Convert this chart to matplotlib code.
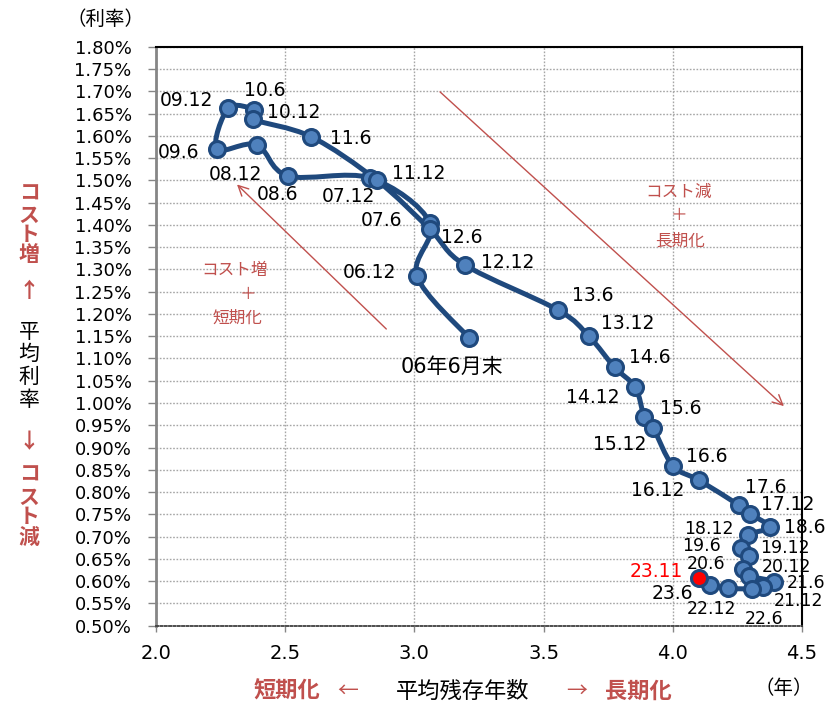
import numpy as np
import matplotlib.pyplot as plt
from matplotlib.path import Path
from matplotlib.patches import PathPatch

plt.rcParams['font.family'] = ['DejaVu Sans', 'Noto Sans CJK JP']

# 平均残存年数（年）と平均利率（%）の推移
labels = ['06年6月末', '06.12', '07.6', '07.12', '08.6', '08.12', '09.6', '09.12',
          '10.6', '10.12', '11.6', '11.12', '12.6', '12.12', '13.6', '13.12',
          '14.6', '14.12', '15.6', '15.12', '16.6', '16.12', '17.6', '17.12',
          '18.6', '18.12', '19.6', '19.12', '20.6', '20.12', '21.6', '21.12',
          '22.6', '22.12', '23.6', '23.11']
years = [3.21, 3.01, 3.06, 2.83, 2.51, 2.39, 2.235, 2.28,
         2.38, 2.375, 2.60, 2.855, 3.06, 3.195, 3.555, 3.675,
         3.775, 3.855, 3.89, 3.925, 4.00, 4.10, 4.255, 4.30,
         4.375, 4.29, 4.265, 4.295, 4.27, 4.295, 4.39, 4.35,
         4.305, 4.215, 4.145, 4.10]
rates = [1.147, 1.285, 1.405, 1.505, 1.51, 1.58, 1.57, 1.662,
         1.658, 1.637, 1.598, 1.50, 1.39, 1.31, 1.209, 1.15,
         1.08, 1.035, 0.968, 0.943, 0.859, 0.827, 0.771, 0.751,
         0.721, 0.704, 0.674, 0.656, 0.627, 0.612, 0.599, 0.588,
         0.583, 0.584, 0.591, 0.608]

# ラベル位置（点からのずれ, px, 下向き正）
label_off = [(-17, 29), (-48, -4), (-48, -2), (-22, 18), (-10, 19), (-21, 30), (-38, 3), (-42, -8),
             (11, -19), (41, -7), (40, 2), (42, -7), (32, 8), (43, -2), (35, -14), (39, -13),
             (35, -10), (-43, 10), (36, -9), (-34, 16), (34, -9), (-41, 10), (27, -18), (37, -9),
             (35, 0), (-39, -6), (-40, -2), (36, -8), (-37, -5), (37, -9), (32, 1), (35, 14),
             (12, 30), (-17, 21), (-38, 8), (-42, -6)]

LINE = '#1F497D'
FILL = '#4F81BD'
NOTE = '#C0504D'
W, H = 831, 703


def smooth_path(xs, ys):
    # Catmull-Rom 風の平滑化曲線
    pts = np.column_stack([xs, ys])
    n = len(pts)
    verts = [pts[0]]
    codes = [Path.MOVETO]
    for i in range(n - 1):
        p0 = pts[max(i - 1, 0)]
        p1 = pts[i]
        p2 = pts[i + 1]
        p3 = pts[min(i + 2, n - 1)]
        verts += [p1 + (p2 - p0) / 6, p2 - (p3 - p1) / 6, p2]
        codes += [Path.CURVE4] * 3
    return Path(verts, codes)


fig = plt.figure(figsize=(8.31, 7.03), dpi=100)
ax = fig.add_axes([156 / W, 1 - 625.7 / H, (802 - 156) / W, (625.7 - 46.7) / H])

ax.set_xlim(2.0, 4.5)
ax.set_ylim(0.50, 1.80)
ax.set_xticks(np.arange(2.0, 4.51, 0.5))
ax.set_xticklabels(['%.1f' % v for v in np.arange(2.0, 4.51, 0.5)])
yt = np.arange(0.50, 1.801, 0.05)
ax.set_yticks(yt)
ax.set_yticklabels(['%.2f%%' % v for v in yt])
ax.grid(True, color='#a6a6a6', linestyle=(0, (1.2, 1.2)), lw=1.0)
ax.set_axisbelow(True)

ax.spines['left'].set_color('#868686')
ax.spines['left'].set_linewidth(2)
ax.spines['bottom'].set_color('#404040')
ax.spines['bottom'].set_linestyle((0, (1.2, 1.2)))
ax.spines['bottom'].set_linewidth(1.3)
for s in ['top', 'right']:
    ax.spines[s].set_color('black')
    ax.spines[s].set_linewidth(1.5)
ax.tick_params(axis='y', direction='out', length=5.5, width=1, color='#868686',
               labelsize=13, pad=12)
ax.tick_params(axis='x', direction='out', length=4, width=1, color='#868686',
               labelsize=14, pad=9)

# 推移線とマーカー
ax.add_patch(PathPatch(smooth_path(years, rates), facecolor='none', edgecolor=LINE,
                       lw=3.6, capstyle='round', joinstyle='round', zorder=2))
ax.plot(years[:-1], rates[:-1], 'o', ms=11.5, mfc=FILL, mec=LINE, mew=2.2, zorder=3)
ax.plot(years[-1:], rates[-1:], 'o', ms=11.5, mfc='red', mec=LINE, mew=2.2, zorder=3)

for i, (lab, x, y) in enumerate(zip(labels, years, rates)):
    dx, dy = label_off[i]
    if i == 0:
        fs = 15
    elif 25 <= i <= 33:
        fs = 12.5   # 密集部分はやや小さく
    else:
        fs = 13.5
    ax.annotate(lab, (x, y), xytext=(dx * 0.72, -dy * 0.72), textcoords='offset points',
                ha='center', va='center', fontsize=fs,
                color='red' if lab == '23.11' else 'black', zorder=4)

# 方向を示す矢印
ax.annotate('', xy=(0.1223, 0.7654), xytext=(0.3596, 0.5091), xycoords='axes fraction',
            arrowprops=dict(arrowstyle='->', color=NOTE, lw=1.0, mutation_scale=18))
ax.annotate('', xy=(0.9752, 0.376), xytext=(0.4365, 0.9252), xycoords='axes fraction',
            arrowprops=dict(arrowstyle='->', color=NOTE, lw=1.0, mutation_scale=18))


def ftext(px, py, s, **kw):
    fig.text(px / W, 1 - py / H, s, ha='center', va='center',
             family=['Noto Sans CJK JP', 'DejaVu Sans'], **kw)


for px, py, s in [(235, 271, 'コスト増'), (248, 294, '＋'), (237, 318, '短期化'),
                  (679, 192, 'コスト減'), (679, 216, '＋'), (680, 241, '長期化')]:
    ftext(px, py, s, fontsize=12, color=NOTE)

# 縦軸の説明（縦書き）
left_chars = [(193, 'コ', NOTE), (215, 'ス', NOTE), (235, 'ト', NOTE), (254, '増', NOTE),
              (290, '↑', NOTE),
              (332, '平', 'black'), (354, '均', 'black'), (377, '利', 'black'), (400, '率', 'black'),
              (442, '↓', NOTE),
              (474, 'コ', NOTE), (497, 'ス', NOTE), (517, 'ト', NOTE), (537, '減', NOTE)]
for py, ch, c in left_chars:
    ftext(29, py, ch, fontsize=15, color=c, fontweight='bold' if c == NOTE else 'normal')

ftext(105, 19, '（利率）', fontsize=14)
ftext(784, 688, '（年）', fontsize=14)

# 横軸の説明
ftext(287, 691, '短期化', fontsize=16, color=NOTE, fontweight='bold')
ftext(348, 691, '←', fontsize=15, color=NOTE)
ftext(463, 691, '平均残存年数', fontsize=16)
ftext(577, 691, '→', fontsize=15, color=NOTE)
ftext(638, 691, '長期化', fontsize=16, color=NOTE, fontweight='bold')

fig.savefig('out.png', dpi=100)
